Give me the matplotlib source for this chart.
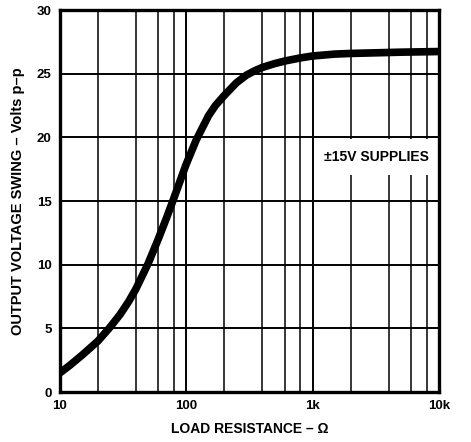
import numpy as np
import matplotlib
matplotlib.use("Agg")
import matplotlib.pyplot as plt
from matplotlib.patches import Rectangle
from matplotlib.ticker import FixedLocator, NullFormatter

plt.rcParams['font.family'] = ['Liberation Sans', 'DejaVu Sans']
plt.rcParams['font.weight'] = 'bold'

# values
load_ohms = [10, 12, 15, 20, 25, 30, 35, 40, 50, 60, 70, 80, 90, 100, 120, 150,
             170, 200, 250, 300, 350, 400, 500, 600, 800, 1000, 1500, 2000, 5000, 10000]
swing_vpp = [1.5, 2.1, 2.9, 4.0, 5.1, 6.1, 7.1, 8.1, 10.1, 12.0, 13.7, 15.25, 16.65, 17.9,
             19.8, 21.7, 22.5, 23.3, 24.3, 24.9, 25.25, 25.5, 25.8, 26.0, 26.25, 26.4,
             26.55, 26.6, 26.7, 26.75]

x_major = [10, 100, 1000, 10000]
x_major_labels = ['10', '100', '1k', '10k']
x_minor = [20, 40, 60, 80, 200, 400, 600, 800, 2000, 4000, 6000, 8000]
y_ticks = [0, 5, 10, 15, 20, 25, 30]

fig = plt.figure(figsize=(4.71, 4.42), dpi=100)
ax = fig.add_axes([0.127, 0.113, 0.805, 0.864])

ax.set_xscale('log')
ax.set_xlim(10, 10000)
ax.set_ylim(0, 30)

ax.xaxis.set_major_locator(FixedLocator(x_major))
ax.set_xticklabels(x_major_labels)
ax.xaxis.set_minor_locator(FixedLocator(x_minor))
ax.xaxis.set_minor_formatter(NullFormatter())
ax.set_yticks(y_ticks)

ax.grid(True, which='major', color='black', lw=1.4, zorder=1)
ax.grid(True, which='minor', axis='x', color='black', lw=1.1, zorder=1)
ax.tick_params(which='both', length=0, labelsize=9.5, pad=6)
for lab in ax.get_xticklabels() + ax.get_yticklabels():
    lab.set_fontweight('bold')

for s in ax.spines.values():
    s.set_linewidth(2.4)
    s.set_zorder(5)

# white panel behind the annotation
ax.add_patch(Rectangle((1060, 17.05), 10000 - 1060, 2.85, facecolor='white',
                       edgecolor='none', zorder=2))
ax.text(3200, 18.5, '±15V SUPPLIES', ha='center', va='center', fontsize=10,
        fontweight='bold', zorder=3)

ax.plot(load_ohms, swing_vpp, color='black', lw=5.5, solid_capstyle='butt',
        solid_joinstyle='round', zorder=4)

ax.set_xlabel('LOAD RESISTANCE – Ω', fontsize=10, fontweight='bold', labelpad=7)
ax.set_ylabel('OUTPUT VOLTAGE SWING – Volts p–p', fontsize=10.5, fontweight='bold',
              labelpad=8)

fig.savefig('out.png', dpi=100)
